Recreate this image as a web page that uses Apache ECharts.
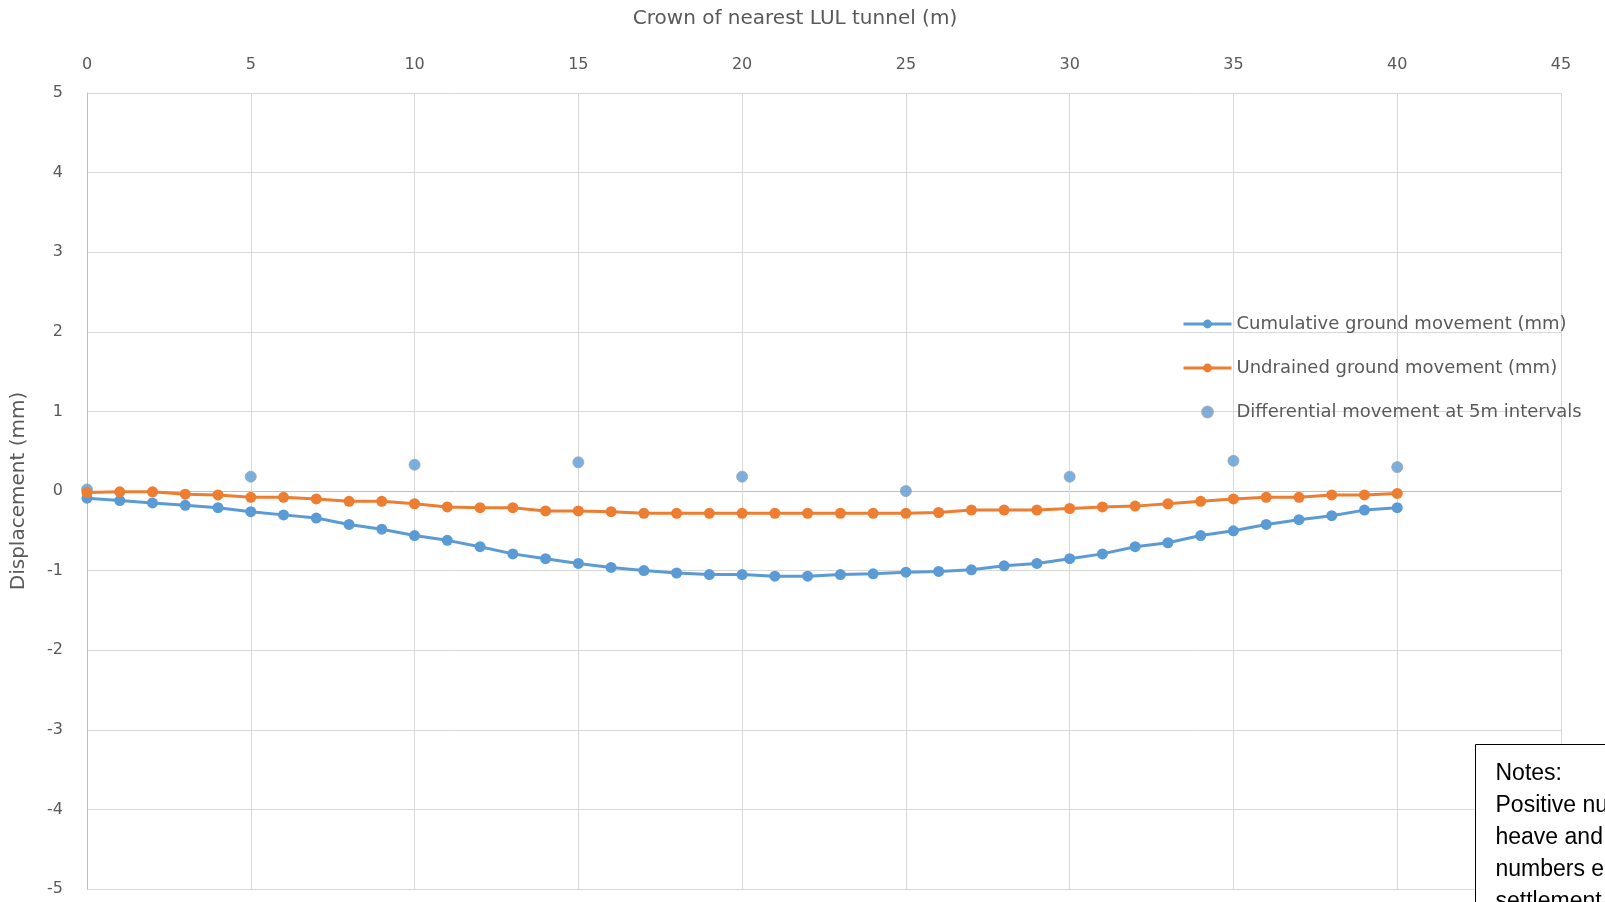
<!DOCTYPE html>
<html>
<head>
<meta charset="utf-8">
<script src="https://cdn.jsdelivr.net/npm/echarts@6/dist/echarts.min.js"></script>
<style>
html,body{margin:0;padding:0;background:#fff;}
#chart{width:1605px;height:902px;}
</style>
</head>
<body>
<div id="chart"></div>
<script>
const distances = [0,1,2,3,4,5,6,7,8,9,10,11,12,13,14,15,16,17,18,19,20,21,22,23,24,25,26,27,28,29,30,31,32,33,34,35,36,37,38,39,40];
const cumulative = [-0.09,-0.12,-0.15,-0.18,-0.21,-0.26,-0.30,-0.34,-0.42,-0.48,-0.56,-0.62,-0.70,-0.79,-0.85,-0.91,-0.96,-1.00,-1.03,-1.05,-1.05,-1.07,-1.07,-1.05,-1.04,-1.02,-1.01,-0.99,-0.94,-0.91,-0.85,-0.79,-0.70,-0.65,-0.56,-0.50,-0.42,-0.36,-0.31,-0.24,-0.21];
const undrained = [-0.02,-0.01,-0.01,-0.04,-0.05,-0.08,-0.08,-0.10,-0.13,-0.13,-0.16,-0.20,-0.21,-0.21,-0.25,-0.25,-0.26,-0.28,-0.28,-0.28,-0.28,-0.28,-0.28,-0.28,-0.28,-0.28,-0.27,-0.24,-0.24,-0.24,-0.22,-0.20,-0.19,-0.16,-0.13,-0.10,-0.08,-0.08,-0.05,-0.05,-0.03];
const diffX = [0,5,10,15,20,25,30,35,40];
const differential = [0.02,0.18,0.33,0.36,0.18,0.00,0.18,0.38,0.30];
const seriesNames = ['Cumulative ground movement (mm)','Undrained ground movement (mm)','Differential movement at 5m intervals'];
const xTitle = 'Crown of nearest LUL tunnel (m)';
const yTitle = 'Displacement (mm)';
const notesLines = ['Notes:','Positive numbers equal','heave and negative','numbers equal','settlement'];

const labelFont = '"DejaVu Sans", sans-serif';
const chart = echarts.init(document.getElementById('chart'), null, {renderer:'canvas'});

const ySplitColors = [];
for (let v = -5; v <= 5; v++) ySplitColors.push(v === 0 ? '#bfbfbf' : '#d9d9d9');

chart.setOption({
  animation:false,
  backgroundColor:'#ffffff',
  grid:{left:87, top:93, width:1474, height:796, containLabel:false, outerBoundsMode:'none'},
  legend:{
    orient:'vertical', left:1177, top:310, itemGap:26, itemWidth:48, itemHeight:11,
    lineStyle:{width:3},
    textStyle:{color:'#595959', fontSize:18, fontFamily:labelFont},
    data:seriesNames
  },
  xAxis:{
    type:'value', position:'top', min:0, max:45, interval:5,
    axisLine:{show:false}, axisTick:{show:false},
    axisLabel:{color:'#595959', fontSize:16, margin:20, fontFamily:labelFont},
    splitLine:{show:true, lineStyle:{color:'#d9d9d9', width:1}}
  },
  yAxis:{
    type:'value', min:-5, max:5, interval:1,
    name:yTitle, nameLocation:'middle', nameGap:58, nameRotate:90,
    nameTextStyle:{color:'#595959', fontSize:20, fontFamily:labelFont},
    axisLine:{show:true, onZero:false, lineStyle:{color:'#bfbfbf', width:1}},
    axisTick:{show:false},
    axisLabel:{color:'#595959', fontSize:16, margin:24, fontFamily:labelFont},
    splitLine:{show:true, lineStyle:{color:ySplitColors, width:1}}
  },
  series:[
    {
      name:seriesNames[0], type:'line',
      data:distances.map((d,i)=>[d,cumulative[i]]),
      symbol:'circle', symbolSize:11,
      lineStyle:{color:'#5b9bd5', width:3},
      itemStyle:{color:'#5b9bd5'}
    },
    {
      name:seriesNames[1], type:'line',
      data:distances.map((d,i)=>[d,undrained[i]]),
      symbol:'circle', symbolSize:11,
      lineStyle:{color:'#ed7d31', width:3},
      itemStyle:{color:'#ed7d31'}
    },
    {
      name:seriesNames[2], type:'scatter',
      data:diffX.map((d,i)=>[d,differential[i]]),
      symbol:'circle', symbolSize:11,
      itemStyle:{color:'#5b9bd5', borderColor:'#9aa5b1', borderWidth:1}
    }
  ],
  graphic:[
    {
      type:'text', x:795, y:9, z:100,
      style:{text:xTitle, fill:'#595959', font:'20px "DejaVu Sans", sans-serif', textAlign:'center'}
    },
    {
      type:'group', left:1475, top:744, z:100,
      children:[
        {type:'rect', z:100, shape:{x:0,y:0,width:300,height:200}, style:{fill:'#ffffff', stroke:'#000000', lineWidth:1}},
        {type:'text', z:101, x:20, y:13, style:{text:notesLines.join('\n'), fill:'#000000', font:'23px "Liberation Sans", "Open Sans", sans-serif', lineHeight:32}}
      ]
    }
  ]
});
</script>
</body>
</html>
